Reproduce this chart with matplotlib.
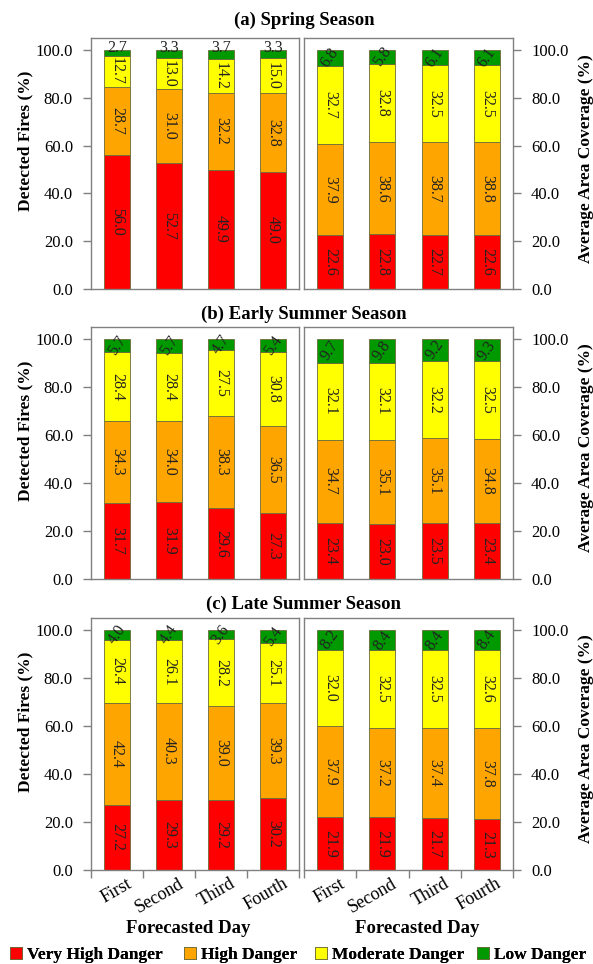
import matplotlib
matplotlib.use("Agg")
import matplotlib.pyplot as plt
import matplotlib.transforms as mtransforms
import numpy as np

plt.rcParams['font.family'] = ['Liberation Serif', 'DejaVu Serif']

days = ["First", "Second", "Third", "Fourth"]
classes = ["Very High Danger", "High Danger", "Moderate Danger", "Low Danger"]
colors = ["#FF0000", "#FFA500", "#FFFF00", "#009A00"]
seasons = ["(a) Spring Season", "(b) Early Summer Season", "(c) Late Summer Season"]
yticks = [0, 20, 40, 60, 80, 100]

# Detected fires (%) per season: [very high, high, moderate, low]
spring_fires = [[56.0, 52.7, 49.9, 49.0], [28.7, 31.0, 32.2, 32.8],
                [12.7, 13.0, 14.2, 15.0], [2.7, 3.3, 3.7, 3.3]]
early_fires = [[31.7, 31.9, 29.6, 27.3], [34.3, 34.0, 38.3, 36.5],
               [28.4, 28.4, 27.5, 30.8], [5.7, 5.7, 4.7, 5.4]]
late_fires = [[27.2, 29.3, 29.2, 30.2], [42.4, 40.3, 39.0, 39.3],
              [26.4, 26.1, 28.2, 25.1], [4.0, 4.4, 3.6, 5.4]]
# Average area coverage (%)
spring_area = [[22.6, 22.8, 22.7, 22.6], [37.9, 38.6, 38.7, 38.8],
               [32.7, 32.8, 32.5, 32.5], [6.8, 5.8, 6.1, 6.1]]
early_area = [[23.4, 23.0, 23.5, 23.4], [34.7, 35.1, 35.1, 34.8],
              [32.1, 32.1, 32.2, 32.5], [9.7, 9.8, 9.2, 9.3]]
late_area = [[21.9, 21.9, 21.7, 21.3], [37.9, 37.2, 37.4, 37.8],
             [32.0, 32.5, 32.5, 32.6], [8.2, 8.4, 8.4, 8.4]]

fires = [spring_fires, early_fires, late_fires]
areas = [spring_area, early_area, late_area]

W, H = 593, 964
fig = plt.figure(figsize=(W / 100, H / 100), dpi=100)

def ax_at(x0, x1, y0, y1):
    return fig.add_axes([x0 / W, 1 - y1 / H, (x1 - x0) / W, (y1 - y0) / H])

rows = [(38, 289), (327, 579), (618, 870)]
title_y = [20, 314, 604]
spine_c = "#808080"
handles = None

for r, (y0, y1) in enumerate(rows):
    for side, (x0, x1) in enumerate([(91, 299), (304, 513)]):
        ax = ax_at(x0, x1, y0, y1)
        data = fires[r] if side == 0 else areas[r]
        x = np.arange(len(days))
        bottom = np.zeros(len(days))
        hs = []
        for k, vals in enumerate(data):
            vals = np.array(vals)
            b = ax.bar(x, vals, 0.5, bottom=bottom, color=colors[k],
                       edgecolor="#6b6b3a", linewidth=0.6, label=classes[k])
            hs.append(b)
            for i in range(len(days)):
                if k < 3:
                    ax.text(x[i], bottom[i] + vals[i] / 2, f"{vals[i]:.1f}",
                            rotation=270, ha="center", va="center",
                            fontsize=11.5, color="#222222")
                else:
                    if r == 0 and side == 0:
                        ax.text(x[i], 101.0, f"{vals[i]:.1f}", rotation=0,
                                ha="center", va="center", fontsize=11.5,
                                color="#222222")
                    else:
                        ax.text(x[i], bottom[i] + vals[i] / 2, f"{vals[i]:.1f}",
                                rotation=55, ha="center", va="center",
                                fontsize=11.5, color="#222222")
            bottom = bottom + vals
        if handles is None:
            handles = hs
        ax.set_xlim(-0.5, 3.5)
        ax.set_ylim(0, 105)
        ax.set_yticks(yticks)
        ax.set_yticklabels([f"{v:.1f}" for v in yticks], fontsize=12)
        for sp in ax.spines.values():
            sp.set_color(spine_c)
            sp.set_linewidth(1.0)
        ax.tick_params(axis="y", direction="out", length=6, color=spine_c,
                       width=1.0, pad=7)
        if side == 0:
            ax.set_ylabel("Detected Fires (%)", fontsize=12.5, fontweight="bold")
            ax.yaxis.set_label_coords(-0.279, 0.59)
        else:
            ax.yaxis.tick_right()
            ax.yaxis.set_label_position("right")
            ax.set_ylabel("Average Area Coverage (%)", fontsize=12.5,
                          fontweight="bold", rotation=90)
            ax.yaxis.set_label_coords(1.311, 0.52)
        if r < 2:
            ax.set_xticks([])
        else:
            ax.set_xticks([-0.5, 0.5, 1.5, 2.5, 3.5])
            ax.set_xticklabels([])
            ax.tick_params(axis="x", direction="out", length=6, color=spine_c,
                           width=1.0)
            off = mtransforms.ScaledTranslation(9 / 100, -5 / 100, fig.dpi_scale_trans)
            for i, d in enumerate(days):
                ax.text(x[i], 0, d, rotation=30, ha="right", va="top",
                        rotation_mode="anchor", fontsize=13,
                        transform=ax.get_xaxis_transform() + off)
            ax.set_xlabel("Forecasted Day", fontsize=13.5, fontweight="bold")
            ax.xaxis.set_label_coords(0.466 if side == 0 else 0.54, -0.2)
    fig.text(304 / W, 1 - title_y[r] / H, seasons[r], ha="center", va="center",
             fontsize=13.5, fontweight="bold")

leg_x = [10, 184, 315, 477]
for k in range(len(classes)):
    lg = fig.legend(handles=[handles[k]], labels=[classes[k]], loc="center left",
                    bbox_to_anchor=(leg_x[k] / W, 1 - 955 / H), frameon=False,
                    handlelength=0.7, handleheight=0.7, handletextpad=0.3,
                    prop={"weight": "bold", "size": 12.5}, borderaxespad=0,
                    borderpad=0)
    fig.add_artist(lg)

fig.savefig("out.png", dpi=100)
